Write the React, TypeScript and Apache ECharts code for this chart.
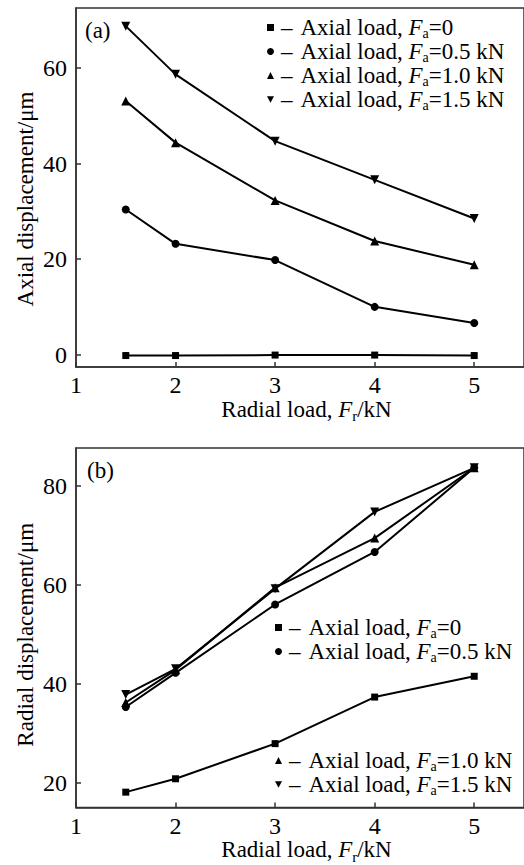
import React, { useEffect, useRef } from "react";
import * as echarts from "echarts";

const radialLoad = [1.5, 2, 3, 4, 5];
const xTickValues = [1, 2, 3, 4, 5];
const axialTicks = [0, 20, 40, 60];
const radialTicks = [20, 40, 60, 80];

const axialFa0 = [-0.2, -0.2, -0.1, -0.1, -0.2];
const axialFa05 = [30.4, 23.2, 19.8, 10.0, 6.6];
const axialFa10 = [53.1, 44.4, 32.3, 23.8, 18.8];
const axialFa15 = [68.8, 58.7, 44.7, 36.6, 28.5];

const radialFa0 = [18.1, 20.8, 27.9, 37.3, 41.5];
const radialFa05 = [35.3, 42.2, 56.0, 66.6, 83.6];
const radialFa10 = [36.2, 42.8, 59.4, 69.4, 83.6];
const radialFa15 = [37.8, 43.0, 59.2, 74.7, 83.6];

const loadSuffixes = ["=0", "=0.5 kN", "=1.0 kN", "=1.5 kN"];
const seriesKeys = ["Fa0", "Fa05", "Fa10", "Fa15"];

const FONT = "Liberation Serif";
const INK = "#000";
const AXIS = "#333";
const downTri = "path://M0,0L10,0L5,9Z";
const symbols = ["rect", "circle", "triangle", downTri];
const symbolSizes = [7, 8, 9, 9];

const richText = (size: number, lh: number, sub: number, subPad: number) => ({
  t: { fontFamily: FONT, fontSize: size, lineHeight: lh, color: INK, verticalAlign: "middle" },
  i: { fontFamily: FONT, fontSize: size, lineHeight: lh, color: INK, fontStyle: "italic", verticalAlign: "middle" },
  s: { fontFamily: FONT, fontSize: sub, lineHeight: 6, color: INK, padding: [subPad, 0, 0, 0], verticalAlign: "middle" },
  d: { fontFamily: FONT, fontSize: size, lineHeight: lh, color: INK, padding: [0, 8, 0, 2], verticalAlign: "middle" },
});

export default function App() {
  const ref = useRef<HTMLDivElement>(null);
  useEffect(() => {
    if (!ref.current) return;
    const chart = echarts.init(ref.current, undefined, { renderer: "svg" });

    const pair = (ys: number[]) => radialLoad.map((x, i) => [x, ys[i]]);
    const topData = [axialFa0, axialFa05, axialFa10, axialFa15];
    const botData = [radialFa0, radialFa05, radialFa10, radialFa15];

    const mkSeries = (prefix: string, data: number[][], idx: number) =>
      data.map((ys, k) => ({
        type: "line",
        name: prefix + seriesKeys[k],
        xAxisIndex: idx,
        yAxisIndex: idx,
        data: pair(ys),
        symbol: symbols[k],
        symbolSize: symbolSizes[k],
        showAllSymbol: true,
        itemStyle: { color: INK },
        lineStyle: { color: INK, width: 2 },
        z: 3 + k,
      }));

    const legendFormatter = (name: string) => {
      const k = seriesKeys.indexOf(name.slice(1));
      return `{d|–}{t|Axial load, }{i|F}{s|a}{t|${loadSuffixes[k]}}`;
    };

    // one legend per row so each row sits where the reference puts it
    const mkLegendRow = (name: string, left: number, rowCenter: number) => {
      const k = seriesKeys.indexOf(name.slice(1));
      return {
        orient: "vertical",
        left,
        top: rowCenter - 12,
        padding: 0,
        itemWidth: 7,
        itemHeight: 7,
        selectedMode: false,
        data: [{ name, icon: symbols[k] }],
        formatter: legendFormatter,
        textStyle: { rich: richText(23, 22, 14, 11), fontFamily: FONT, fontSize: 23 },
        itemStyle: { color: INK },
      };
    };

    const xAxisCommon = (gi: number) => ({
      type: "value",
      gridIndex: gi,
      min: 1,
      max: 5.5,
      axisLine: { show: true, onZero: false, lineStyle: { color: AXIS, width: 1.5 } },
      axisTick: { show: true, inside: true, length: 5, lineStyle: { color: AXIS, width: 1.5 }, customValues: xTickValues },
      axisLabel: { fontFamily: FONT, fontSize: 24, lineHeight: 24, color: INK, margin: 6, customValues: xTickValues },
      splitLine: { show: false },
      name: "{t|Radial load, }{i|F}{s|r}{t|/kN}",
      nameLocation: "middle",
      nameGap: 30,
      nameMoveOverlap: false,
      nameTextStyle: { rich: richText(23, 24, 15, 14), padding: [0, 0, 0, 13] },
    });

    const yAxisCommon = (gi: number, min: number, max: number, ticks: number[], name: string, pad: number) => ({
      type: "value",
      gridIndex: gi,
      min,
      max,
      axisLine: { show: true, onZero: false, lineStyle: { color: AXIS, width: 1.5 } },
      axisTick: { show: true, inside: true, length: 5, lineStyle: { color: AXIS, width: 1.5 }, customValues: ticks },
      axisLabel: { fontFamily: FONT, fontSize: 24, lineHeight: 24, color: INK, margin: 9, customValues: ticks },
      splitLine: { show: false },
      name,
      nameLocation: "middle",
      nameGap: 39,
      nameMoveOverlap: false,
      nameTextStyle: { fontFamily: FONT, fontSize: 23, lineHeight: 24, color: INK, padding: [0, pad, 0, 0] },
    });

    const topRows = [27, 51, 75, 99];
    const botRows = [627, 651, 760, 784];

    chart.setOption({
      animation: false,
      backgroundColor: "#fff",
      grid: [
        { left: 76, top: 8, width: 451, height: 359, show: true, borderColor: AXIS, borderWidth: 1.5, backgroundColor: "transparent" },
        { left: 76, top: 448, width: 451, height: 360, show: true, borderColor: AXIS, borderWidth: 1.5, backgroundColor: "transparent" },
      ],
      xAxis: [xAxisCommon(0), xAxisCommon(1)],
      yAxis: [
        yAxisCommon(0, -2.6, 72.6, axialTicks, "Axial displacement/μm", 23),
        yAxisCommon(1, 15, 87.6, radialTicks, "Radial displacement/μm", 14),
      ],
      legend: [
        ...seriesKeys.map((k, i) => mkLegendRow("A" + k, 267, topRows[i])),
        ...seriesKeys.map((k, i) => mkLegendRow("B" + k, 275, botRows[i])),
      ],
      series: [...mkSeries("A", topData, 0), ...mkSeries("B", botData, 1)],
      graphic: [
        { type: "text", x: 85, y: 30, style: { text: "(a)", fontFamily: FONT, fontSize: 23, fill: INK, align: "left", verticalAlign: "middle" } },
        { type: "text", x: 87, y: 470, style: { text: "(b)", fontFamily: FONT, fontSize: 23, fill: INK, align: "left", verticalAlign: "middle" } },
      ],
    });
    return () => chart.dispose();
  }, []);
  return <div ref={ref} style={{ position: "absolute", left: 0, top: 0, width: 524, height: 865 }} />;
}
